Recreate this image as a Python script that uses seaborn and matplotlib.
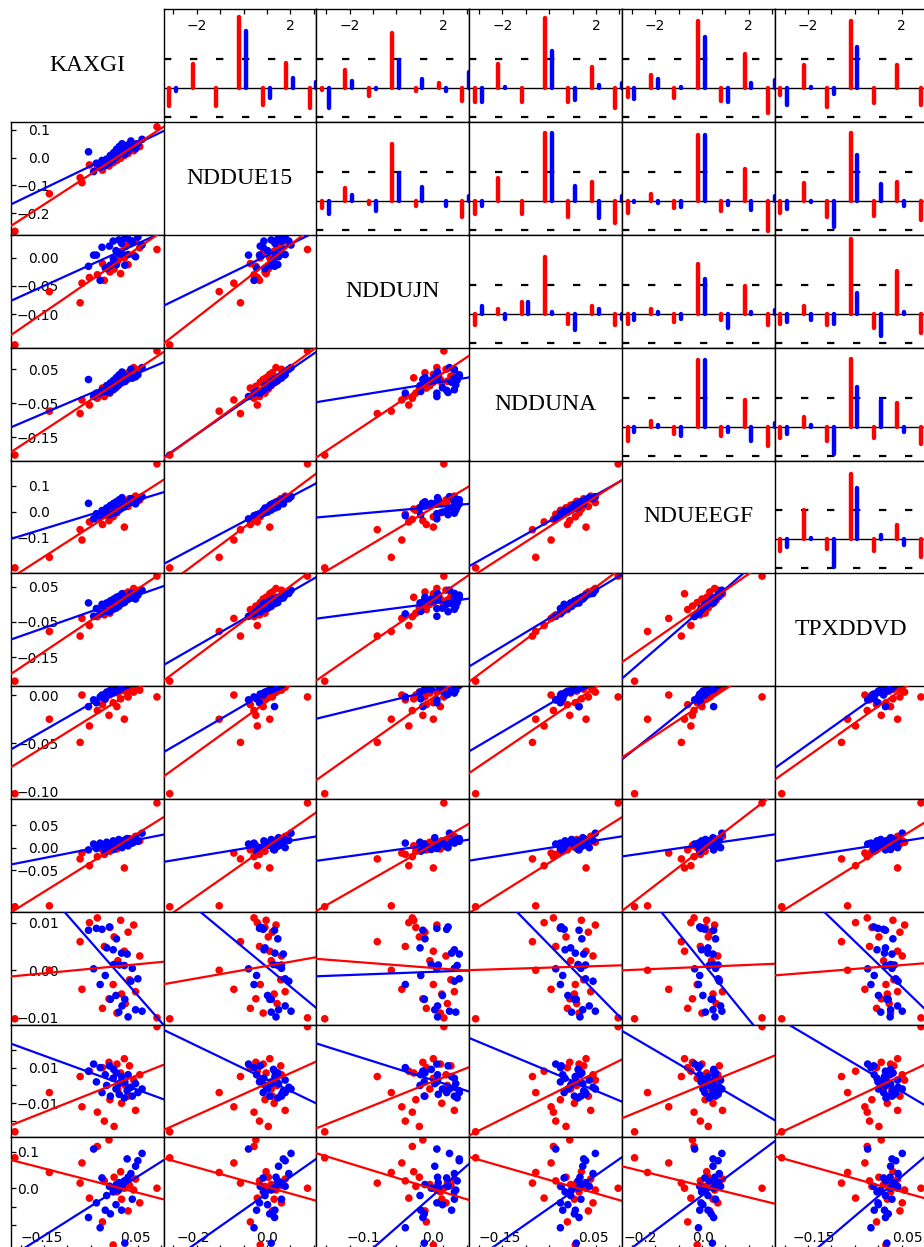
import matplotlib
matplotlib.use("Agg")
import matplotlib.pyplot as plt
import numpy as np
import pandas as pd
import seaborn as sns

sns.set_theme(style="white", rc={
    "axes.edgecolor": "black", "axes.linewidth": 1.0,
    "xtick.color": "black", "ytick.color": "black",
    "text.color": "black",
})
plt.rcParams["font.family"] = ["DejaVu Sans"]

RED = "#ff0000"
BLUE = "#0000ff"

names = ["KAXGI", "NDDUE15", "NDDUJN", "NDDUNA", "NDUEEGF", "TPXDDVD"]

# ---- monthly returns, regime A (red) and regime B (blue) ----
red_kaxgi = [-0.208, -0.134, -0.068, -0.064, -0.048, 0.097, -0.031, -0.020, -0.016, -0.006, -0.004, 0.003,
             0.005, 0.011, 0.013, 0.019, 0.021, 0.027, 0.029, 0.035, 0.038, 0.047, 0.051, 0.060]
blue_kaxgi = [-0.050, -0.039, -0.033, -0.025, -0.021, -0.014, -0.011, -0.005, -0.003, 0.003, 0.004, 0.009, 0.010,
              0.015, 0.016, 0.021, 0.022, 0.027, 0.028, 0.033, 0.035, 0.041, 0.044, 0.051, 0.056, 0.065]

red_nddue15 = [-0.265, -0.130, -0.072, -0.090, -0.026, 0.111, -0.035, -0.045, -0.020, -0.030, -0.005, -0.018,
               0.004, -0.010, 0.012, -0.002, 0.020, 0.008, 0.028, 0.015, 0.038, 0.025, 0.050, 0.040]
blue_nddue15 = [0.021, -0.050, -0.020, -0.035, -0.010, -0.028, -0.005, -0.018, 0.008, -0.008, 0.018, 0.002, 0.030,
                0.012, 0.040, 0.022, 0.050, 0.030, 0.012, 0.045, 0.025, 0.060, 0.040, 0.032, 0.050, 0.066]

red_nddujn = [-0.155, -0.060, -0.080, -0.045, -0.035, 0.015, -0.030, -0.010, -0.040, -0.015, -0.025, 0.000,
              -0.020, 0.010, -0.005, -0.028, 0.012, 0.000, 0.020, -0.012, 0.025, 0.005, 0.030, 0.018]
blue_nddujn = [-0.015, 0.005, 0.005, -0.040, 0.019, -0.018, -0.019, 0.021, -0.013, 0.030, -0.003, 0.013, -0.012,
               0.032, 0.007, 0.026, 0.006, 0.034, -0.013, 0.037, 0.006, 0.030, 0.030, 0.002, 0.037, 0.023]

red_nddna = [-0.202, -0.073, -0.080, -0.040, -0.055, 0.104, -0.035, -0.005, -0.030, 0.000, -0.020, 0.012,
             -0.008, 0.020, 0.002, 0.025, 0.010, 0.035, 0.015, 0.040, 0.030, 0.055, 0.045, 0.050]
blue_nddna = [0.020, -0.030, -0.020, -0.020, -0.012, -0.015, 0.002, -0.018, 0.010, -0.010, 0.018, -0.004, 0.026,
              0.004, 0.034, 0.012, 0.042, 0.018, 0.014, 0.030, 0.022, 0.050, 0.024, 0.028, 0.034, 0.055]

red_nduegf = [-0.218, -0.177, -0.070, -0.110, -0.040, 0.185, -0.030, -0.050, -0.010, -0.035, 0.005, -0.020,
              0.015, -0.005, 0.025, 0.010, 0.030, -0.060, 0.040, 0.020, 0.050, 0.035, 0.060, 0.045]
blue_nduegf = [0.032, -0.028, -0.008, -0.016, 0.004, -0.012, 0.014, -0.012, 0.024, -0.006, 0.032, -0.002, 0.038,
               0.006, 0.046, 0.014, 0.054, 0.018, 0.028, 0.030, 0.036, 0.050, 0.038, 0.030, 0.046, 0.058]

red_tpxddvd = [-0.218, -0.077, -0.090, -0.040, -0.060, 0.080, -0.035, -0.015, -0.030, -0.005, -0.025, 0.005,
               -0.010, 0.015, 0.000, 0.020, 0.008, 0.030, 0.012, 0.035, 0.022, 0.045, 0.030, 0.040]
blue_tpxddvd = [0.004, -0.034, -0.012, -0.027, 0.000, -0.020, 0.004, -0.021, 0.010, -0.014, 0.015, -0.011, 0.020,
                -0.006, 0.023, 0.002, 0.030, 0.005, 0.007, 0.018, 0.014, 0.031, 0.018, 0.015, 0.026, 0.040]

red_s7 = [-0.102, -0.025, -0.049, 0.000, -0.032, -0.002, -0.016, -0.010, -0.005, -0.021, 0.000, -0.008,
          0.003, -0.012, 0.002, -0.004, 0.005, -0.025, 0.004, -0.002, 0.006, 0.003, 0.008, 0.005]
blue_s7 = [-0.012, -0.005, -0.008, -0.002, 0.000, -0.004, 0.003, 0.001, 0.005, 0.002, 0.006, 0.004, 0.008,
           0.005, 0.010, 0.007, 0.012, 0.009, 0.014, 0.010, 0.016, 0.012, 0.018, 0.015, 0.020, 0.022]

red_s8 = [-0.131, -0.129, -0.025, -0.012, -0.040, 0.099, -0.020, -0.005, -0.015, 0.005, -0.008, 0.000,
          0.010, -0.003, 0.012, 0.004, 0.015, -0.045, 0.018, 0.008, 0.020, 0.012, 0.025, 0.015]
blue_s8 = [-0.005, 0.008, -0.002, 0.010, 0.002, -0.008, 0.012, 0.000, 0.005, 0.015, -0.004, 0.010, 0.003,
           0.018, 0.006, 0.012, 0.000, 0.015, 0.008, 0.020, 0.004, 0.016, 0.010, 0.022, 0.014, 0.032]

red_s9 = [-0.0102, 0.0000, 0.0060, -0.0040, 0.0100, -0.0100, 0.0110, -0.0080, 0.0050, -0.0060, 0.0090, -0.0030,
          0.0070, -0.0090, 0.0020, 0.0105, -0.0050, 0.0040, -0.0070, 0.0080, -0.0020, 0.0095, -0.0045, 0.0030]
blue_s9 = [0.0084, 0.0003, 0.0088, -0.0030, 0.0086, -0.0011, 0.0047, 0.0091, -0.0061, 0.0043, 0.0012, -0.0053,
           0.0066, -0.0088, 0.0011, 0.0036, -0.0075, 0.0010, -0.0061, 0.0034, -0.0098, -0.0023, 0.0004, -0.0083,
           -0.0018, -0.0086]

red_s10 = [-0.026, -0.004, 0.005, -0.012, 0.008, 0.033, -0.015, 0.010, -0.020, 0.013, -0.008, 0.004,
           -0.023, 0.012, -0.002, 0.007, -0.010, 0.015, 0.000, -0.006, 0.011, 0.003, -0.014, 0.006]
blue_s10 = [0.008, 0.012, 0.002, 0.010, -0.004, 0.006, 0.000, 0.011, -0.006, 0.004, 0.009, -0.002, 0.007,
            0.001, -0.005, 0.005, 0.003, -0.007, 0.002, -0.003, 0.006, -0.001, -0.006, 0.001, -0.004, -0.002]

red_s11 = [0.083, 0.043, 0.014, 0.069, -0.027, 0.000, 0.114, -0.092, 0.020, 0.132, 0.005, -0.155,
           0.030, -0.010, 0.010, 0.045, -0.030, 0.000, 0.015, -0.062, 0.008, -0.005, 0.025, -0.040]
blue_s11 = [-0.080, 0.107, -0.040, -0.108, 0.028, -0.060, -0.020, 0.005, -0.070, -0.010, 0.000, -0.045, 0.010,
            -0.005, 0.015, -0.060, 0.005, 0.020, -0.150, 0.080, 0.030, 0.040, -0.030, 0.060, 0.075, 0.095]

red_series = [red_kaxgi, red_nddue15, red_nddujn, red_nddna, red_nduegf, red_tpxddvd,
              red_s7, red_s8, red_s9, red_s10, red_s11]
blue_series = [blue_kaxgi, blue_nddue15, blue_nddujn, blue_nddna, blue_nduegf, blue_tpxddvd,
               blue_s7, blue_s8, blue_s9, blue_s10, blue_s11]

# ---- axis ranges and tick labels ----
col_lims = [(-0.217, 0.111), (-0.282, 0.135), (-0.167, 0.051), (-0.216, 0.112), (-0.258, 0.225), (-0.233, 0.094)]
col_ticks = [[-0.15, 0.05], [-0.2, 0.0], [-0.1, 0.0], [-0.15, 0.05], [-0.2, 0.0], [-0.15, 0.05]]
col_labels = [["−0.15", "0.05"], ["−0.2", "0.0"], ["−0.1", "0.0"], ["−0.15", "0.05"], ["−0.2", "0.0"],
              ["−0.15", "0.05"]]

row_lims = [None, (-0.278, 0.128), (-0.160, 0.041), (-0.218, 0.1135), (-0.239, 0.198), (-0.232, 0.088),
            (-0.1074, 0.0092), (-0.142, 0.108), (-0.0114, 0.0123), (-0.0291, 0.0342), (-0.169, 0.139)]
row_ticks = [None, [0.1, 0.0, -0.1, -0.2], [0.0, -0.05, -0.10], [0.05, -0.05, -0.15], [0.1, 0.0, -0.1],
             [0.05, -0.05, -0.15], [0.0, -0.05, -0.10], [0.05, 0.0, -0.05], [0.01, 0.0, -0.01],
             [0.02, 0.01, 0.0, -0.01, -0.02], [0.1, 0.0, -0.05, -0.10]]
row_labels = [None, ["0.1", "0.0", "−0.1", "−0.2"], ["0.00", "−0.05", "−0.10"], ["0.05", "−0.05", "−0.15"],
              ["0.1", "0.0", "−0.1"], ["0.05", "−0.05", "−0.15"], ["0.00", "−0.05", "−0.10"],
              ["0.05", "0.00", "−0.05"], ["0.01", "0.00", "−0.01"], ["", "0.01", "", "−0.01", ""],
              ["0.1", "0.0", "", ""]]

# ---- lagged cross-correlations (lags -3..3) ----
lags = [-3, -2, -1, 0, 1, 2, 3]
lag_labels = ["", "−2", "", "", "", "2", ""]
band = 0.3

ccf_red_0_1 = [-0.186, 0.255, -0.186, 0.737, -0.169, 0.262, -0.203]
ccf_blue_0_1 = [-0.031, 0.005, 0.005, 0.589, -0.100, 0.107, 0.065]
ccf_red_0_2 = [-0.013, 0.186, -0.083, 0.572, -0.024, 0.058, -0.127]
ccf_blue_0_2 = [-0.200, 0.075, -0.005, 0.296, 0.093, -0.031, 0.166]
ccf_red_0_3 = [-0.140, 0.250, -0.140, 0.727, -0.140, 0.220, -0.200]
ccf_blue_0_3 = [-0.140, 0.010, 0.005, 0.386, -0.120, 0.030, 0.050]
ccf_red_0_4 = [-0.090, 0.135, -0.100, 0.696, -0.135, 0.359, -0.255]
ccf_blue_0_4 = [-0.110, 0.093, 0.014, 0.531, -0.141, 0.055, 0.083]
ccf_red_0_5 = [-0.072, 0.238, -0.196, 0.696, -0.152, 0.245, -0.169]
ccf_blue_0_5 = [-0.169, 0.014, -0.055, 0.427, 0.005, 0.005, 0.050]

ccf_red_1_2 = [-0.072, 0.135, -0.028, 0.593, -0.055, 0.005, -0.169]
ccf_blue_1_2 = [-0.134, 0.065, -0.100, 0.289, 0.145, -0.055, 0.052]
ccf_red_1_3 = [-0.130, 0.240, -0.130, 0.700, -0.160, 0.200, -0.230]
ccf_blue_1_3 = [-0.050, 0.005, 0.005, 0.700, 0.160, -0.180, 0.050]
ccf_red_1_4 = [-0.124, 0.076, -0.072, 0.686, -0.107, 0.334, -0.314]
ccf_blue_1_4 = [-0.005, -0.020, -0.065, 0.686, -0.038, -0.090, 0.050]
ccf_red_1_5 = [-0.124, 0.190, -0.165, 0.703, -0.158, 0.196, -0.193]
ccf_blue_1_5 = [-0.083, -0.010, -0.272, 0.472, 0.172, -0.048, 0.050]

ccf_red_2_3 = [-0.120, 0.050, 0.120, 0.590, -0.100, 0.080, -0.120]
ccf_blue_2_3 = [0.080, -0.050, 0.120, 0.020, -0.170, 0.050, -0.050]
ccf_red_2_4 = [-0.100, 0.050, -0.080, 0.520, -0.060, 0.290, -0.120]
ccf_blue_2_4 = [-0.060, 0.020, -0.050, 0.360, -0.150, 0.020, 0.040]
ccf_red_2_5 = [-0.100, 0.080, -0.120, 0.770, -0.150, 0.440, -0.200]
ccf_blue_2_5 = [-0.080, -0.060, -0.100, 0.220, -0.230, 0.020, 0.040]

ccf_red_3_4 = [-0.150, 0.060, -0.080, 0.690, -0.100, 0.280, -0.200]
ccf_blue_3_4 = [-0.050, 0.020, -0.100, 0.690, -0.050, -0.150, 0.040]
ccf_red_3_5 = [-0.120, 0.100, -0.150, 0.700, -0.120, 0.250, -0.180]
ccf_blue_3_5 = [-0.080, 0.020, -0.280, 0.410, 0.280, -0.050, 0.040]

ccf_red_4_5 = [-0.120, 0.300, -0.100, 0.680, -0.120, 0.150, -0.180]
ccf_blue_4_5 = [-0.080, 0.020, -0.280, 0.530, 0.050, -0.060, 0.040]

ccf_red = {(0, 1): ccf_red_0_1, (0, 2): ccf_red_0_2, (0, 3): ccf_red_0_3, (0, 4): ccf_red_0_4,
           (0, 5): ccf_red_0_5, (1, 2): ccf_red_1_2, (1, 3): ccf_red_1_3, (1, 4): ccf_red_1_4,
           (1, 5): ccf_red_1_5, (2, 3): ccf_red_2_3, (2, 4): ccf_red_2_4, (2, 5): ccf_red_2_5,
           (3, 4): ccf_red_3_4, (3, 5): ccf_red_3_5, (4, 5): ccf_red_4_5}
ccf_blue = {(0, 1): ccf_blue_0_1, (0, 2): ccf_blue_0_2, (0, 3): ccf_blue_0_3, (0, 4): ccf_blue_0_4,
            (0, 5): ccf_blue_0_5, (1, 2): ccf_blue_1_2, (1, 3): ccf_blue_1_3, (1, 4): ccf_blue_1_4,
            (1, 5): ccf_blue_1_5, (2, 3): ccf_blue_2_3, (2, 4): ccf_blue_2_4, (2, 5): ccf_blue_2_5,
            (3, 4): ccf_blue_3_4, (3, 5): ccf_blue_3_5, (4, 5): ccf_blue_4_5}

# ---- layout ----
W, H = 924, 1247
N_ROWS, N_COLS = 11, 6
X0, Y0, CW, CH = 10.7, 9.3, 152.8, 112.8
LAG_LIM = (-3.42, 3.11)
RED_OFF, BLUE_OFF = -0.18, 0.11
TICK_LEN = 3.6

fig = plt.figure(figsize=(W / 100, H / 100), dpi=100)


def make_cell(i, j):
    left = X0 + j * CW
    top = Y0 + i * CH
    ax = fig.add_axes([left / W, 1 - (top + CH) / H, CW / W, CH / H])
    ax.set_xticks([])
    ax.set_yticks([])
    for s in ax.spines.values():
        s.set_color("black")
        s.set_linewidth(1.0)
    return ax


def draw_ccf(ax, red, blue, top_labels):
    lag_arr = np.array(lags, dtype=float)
    ax.axhline(0, color="black", lw=1.0, zorder=1)
    for y in (band, -band):
        ax.axhline(y, color="black", lw=1.6, ls=(0, (3.3, 8.4)), zorder=1)
    ax.vlines(lag_arr + RED_OFF, 0, red, color=RED, lw=3.2, capstyle="round", zorder=2)
    ax.vlines(lag_arr + BLUE_OFF, 0, blue, color=BLUE, lw=3.2, capstyle="round", zorder=2)
    ax.set_xlim(*LAG_LIM)
    ax.set_ylim(-0.350, 0.817)
    if top_labels:
        ax.xaxis.tick_top()
        ax.set_xticks(lags)
        ax.set_xticklabels(lag_labels)
        ax.tick_params(axis="x", direction="in", length=TICK_LEN, width=0.9, pad=-17, labelsize=10,
                       top=True, bottom=False, labeltop=True, labelbottom=False)


def draw_pair(ax, i, j):
    xr, yr = red_series[j], red_series[i]
    xb, yb = blue_series[j], blue_series[i]
    df = pd.DataFrame({"x": xr + xb, "y": yr + yb, "grp": ["a"] * len(xr) + ["b"] * len(xb)})
    sns.scatterplot(data=df, x="x", y="y", hue="grp", palette={"a": RED, "b": BLUE},
                    s=30, linewidth=0, legend=False, ax=ax, zorder=2)
    ax.set_xlim(*col_lims[j])
    ax.set_ylim(*row_lims[i])
    sns.regplot(x=np.array(xb), y=np.array(yb), ax=ax, scatter=False, ci=None, truncate=False,
                color=BLUE, line_kws={"lw": 1.6, "zorder": 3})
    sns.regplot(x=np.array(xr), y=np.array(yr), ax=ax, scatter=False, ci=None, truncate=False,
                color=RED, line_kws={"lw": 1.6, "zorder": 4})
    ax.set_xlim(*col_lims[j])
    ax.set_ylim(*row_lims[i])
    ax.set_xlabel("")
    ax.set_ylabel("")
    ax.set_xticks([])
    ax.set_yticks([])


left_axes = []
for i in range(N_ROWS):
    for j in range(N_COLS):
        ax = make_cell(i, j)
        if i == j:
            ax.axis("off")
            ax.text(0.5, 0.5, names[i], ha="center", va="center", fontsize=17,
                    family=["Liberation Serif", "DejaVu Serif"], transform=ax.transAxes)
        elif i < j:
            draw_ccf(ax, ccf_red[(i, j)], ccf_blue[(i, j)], top_labels=(i == 0))
        else:
            draw_pair(ax, i, j)
            if j == 0:
                ax.set_yticks(row_ticks[i])
                ax.set_yticklabels(row_labels[i])
                ax.tick_params(axis="y", direction="in", length=TICK_LEN, width=0.9, labelsize=10,
                               left=True, labelleft=True)
                left_axes.append(ax)
            if i == N_ROWS - 1:
                lo, hi = col_lims[j]
                frac = (np.array(lags) - LAG_LIM[0]) / (LAG_LIM[1] - LAG_LIM[0])
                ax.set_xticks(col_ticks[j])
                ax.set_xticklabels(col_labels[j])
                ax.set_xticks(lo + frac * (hi - lo), minor=True)
                ax.tick_params(axis="x", which="major", direction="in", length=0, pad=-13.5, labelsize=10,
                               bottom=True, labelbottom=True)
                ax.tick_params(axis="x", which="minor", direction="in", length=TICK_LEN, width=0.9,
                               bottom=True)

# y tick labels sit inside the panel, their right edges just past the widest label
fig.canvas.draw()
renderer = fig.canvas.get_renderer()
for ax in left_axes:
    widths = [t.get_window_extent(renderer).width for t in ax.get_yticklabels() if t.get_text()]
    ax.tick_params(axis="y", pad=-(max(widths) + 6) * 72 / 100)

fig.savefig("out.png", dpi=100)
